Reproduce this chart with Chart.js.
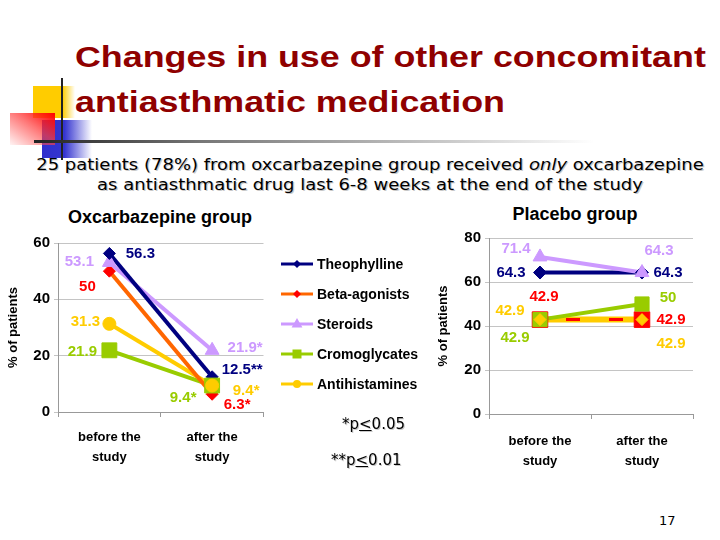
<!DOCTYPE html>
<html>
<head>
<meta charset="utf-8">
<script src="https://cdn.jsdelivr.net/npm/chart.js@4/dist/chart.umd.min.js"></script>
<style>
  body { margin: 0; width: 720px; height: 540px; background: #fff; position: relative; overflow: hidden; }
  .abs { position: absolute; }
  #title { left: 75px; top: 35px; font: bold 29px "Liberation Sans", Arial, sans-serif; line-height: 45px; color: #8f0000; transform: scaleX(1.235); transform-origin: left top; white-space: nowrap; }
  #subtitle { left: 20px; top: 155px; width: 700px; text-align: center; font: 15px "DejaVu Sans", Verdana, sans-serif; line-height: 20px; color: #000; text-shadow: 1px 1px 0 #c8c8c8; white-space: nowrap; transform: scaleX(1.2); transform-origin: 350px 0; }
  .chartTitle { font: bold 18px "Liberation Sans", Arial, sans-serif; color: #000; text-align: center; white-space: nowrap; }
  .note { font: 15px "DejaVu Sans", Verdana, sans-serif; color: #000; text-shadow: 1px 1px 0 #c8c8c8; white-space: nowrap; }
  .legendRow { position: absolute; left: 0; height: 20px; display: flex; align-items: center; font: bold 14px "Liberation Sans", Arial, sans-serif; color: #000; white-space: nowrap; }
  .legendRow canvas { margin-right: 3px; }
</style>
</head>
<body>
<!-- decorative corner blocks -->
<div class="abs" style="left:33px;top:86px;width:42px;height:32px;background:linear-gradient(to right,#ffcc00 0%,#ffcc00 70%,rgba(255,204,0,0) 100%);"></div>
<div class="abs" style="left:42px;top:120px;width:50px;height:38px;background:linear-gradient(to right,#2f2fcc 0%,#3535d0 45%,rgba(60,60,220,0) 100%);"></div>
<div class="abs" style="left:10px;top:113px;width:45px;height:32px;background:linear-gradient(to bottom left,#ff0000 0%,rgba(255,60,60,0.7) 45%,rgba(255,200,200,0.2) 100%);"></div>
<div class="abs" style="left:61px;top:78px;width:2px;height:82px;background:#222;"></div>
<div class="abs" style="left:34px;top:140px;width:560px;height:3px;background:linear-gradient(to right,#222 0%,#777 30%,#ccc 75%,rgba(255,255,255,0) 100%);"></div>

<div id="title" class="abs">Changes in use of other concomitant<br>antiasthmatic medication</div>
<div id="subtitle" class="abs">25 patients (78%) from oxcarbazepine group received <i>only</i> oxcarbazepine<br>as antiasthmatic drug last 6-8 weeks at the end of the study</div>

<div class="abs chartTitle" style="left:60px;top:207px;width:200px;">Oxcarbazepine group</div>
<div class="abs chartTitle" style="left:475px;top:204px;width:200px;">Placebo group</div>

<div class="abs" style="left:0;top:225px;width:275px;height:245px;"><canvas id="oxChart" width="275" height="245"></canvas></div>
<div class="abs" style="left:430px;top:220px;width:275px;height:250px;"><canvas id="plChart" width="275" height="250"></canvas></div>

<div id="legend" class="abs" style="left:280px;top:254px;width:150px;height:150px;"></div>

<div class="abs note" style="left:342px;top:415px;">*p<u>&lt;</u>0.05</div>
<div class="abs note" style="left:331px;top:451px;">**p<u>&lt;</u>0.01</div>
<div class="abs note" style="left:659px;top:513px;font-size:13px;text-shadow:none;">17</div>

<script>
// Data
const seriesNames = ['Theophylline', 'Beta-agonists', 'Steroids', 'Cromoglycates', 'Antihistamines'];
const timepoints = [['before the', 'study'], ['after the', 'study']];

const oxTheophylline = [56.3, 12.5];
const oxBetaAgonists = [50, 6.3];
const oxSteroids = [53.1, 21.9];
const oxCromoglycates = [21.9, 9.4];
const oxAntihistamines = [31.3, 9.4];
const oxSignificance = [['', '**'], ['', '*'], ['', '*'], ['', '*'], ['', '*']];

const plTheophylline = [64.3, 64.3];
const plBetaAgonists = [42.9, 42.9];
const plSteroids = [71.4, 64.3];
const plCromoglycates = [42.9, 50];
const plAntihistamines = [42.9, 42.9];

const oxYTicks = [0, 20, 40, 60];
const plYTicks = [0, 20, 40, 60, 80];

// Styles
const lineColors = ['#000080', '#ff6600', '#cc99ff', '#99cc00', '#ffcc00'];
const markerColors = ['#000080', '#ff0000', '#cc99ff', '#99cc00', '#ffcc00'];
const labelColors = ['#000080', '#ff0000', '#cc99ff', '#99cc00', '#ffcc00'];

const oxMarkers = [
  { style: 'rectRot', r: 6 }, { style: 'rectRot', r: 6 }, { style: 'triangle', r: 8 },
  { style: 'rect', r: 10.5 }, { style: 'circle', r: 6.5 }
];
const plMarkers = [
  { style: 'rectRot', r: 6.5 }, { style: 'rect', r: 11 }, { style: 'triangle', r: 8 },
  { style: 'rect', r: 10 }, { style: 'rectRot', r: 6 }
];
// lower number = drawn on top
const oxLineOrder = [10, 11, 14, 13, 12];
const oxMarkerOrder = [3, 5, 4, 2, 1];
const plLineOrder = [13, 10, 12, 11, 14];
const plMarkerOrder = [5, 3, 4, 2, 1];

// label offsets from each point [before, after] in px
const oxLabelOffsets = [
  [[31, 0], [30, -7]],
  [[-22, 16], [25, 11]],
  [[-30, -1], [33, -2]],
  [[-27, 2], [-29, 12]],
  [[-24, -2], [34, 5]]
];
const plLabelOffsets = [
  [[-29, 0], [26, 0]],
  [[4, -23], [29, 0]],
  [[-24, -8], [17, -22]],
  [[-25, 18], [26, -6]],
  [[-30, -9], [29, 24]]
];

const FONT = '"Liberation Sans", Arial, sans-serif';

const valueLabels = {
  id: 'valueLabels',
  afterDatasetsDraw(chart, args, opts) {
    const ctx = chart.ctx;
    ctx.save();
    ctx.font = 'bold 15px ' + FONT;
    ctx.textAlign = 'center';
    ctx.textBaseline = 'middle';
    chart.data.datasets.forEach((ds, di) => {
      if (!ds.isMarker) return;
      const meta = chart.getDatasetMeta(di);
      const s = ds.seriesIndex;
      meta.data.forEach((pt, i) => {
        const off = opts.offsets[s][i];
        const suffix = opts.suffix ? opts.suffix[s][i] : '';
        ctx.fillStyle = labelColors[s];
        ctx.fillText(String(ds.data[i]) + suffix, pt.x + off[0], pt.y + off[1]);
      });
    });
    ctx.restore();
  }
};

function buildDatasets(values, markers, lineOrder, markerOrder, dashed) {
  const sets = [];
  values.forEach((v, s) => {
    const isDashed = dashed && dashed[s];
    sets.push({
      label: seriesNames[s] + ' line',
      data: v,
      borderColor: isDashed ? '#ff0000' : lineColors[s],
      borderWidth: isDashed ? 3 : (dashed && s === 4 ? 6 : 4),
      borderDash: isDashed ? [14, 29] : [],
      borderDashOffset: isDashed ? 17 : 0,
      pointRadius: 0,
      fill: false,
      tension: 0,
      order: lineOrder[s],
      clip: false
    });
    sets.push({
      label: seriesNames[s],
      data: v,
      showLine: false,
      isMarker: true,
      seriesIndex: s,
      pointStyle: markers[s].style,
      pointRadius: markers[s].r,
      pointBackgroundColor: markerColors[s],
      pointBorderColor: markerColors[s],
      pointBorderWidth: 1,
      order: markerOrder[s],
      clip: false
    });
  });
  return sets;
}

function makeChart(id, values, markers, lineOrder, markerOrder, dashed, yTicks, offsets, suffix, geom) {
  const ctx = document.getElementById(id).getContext('2d');
  return new Chart(ctx, {
    type: 'line',
    data: {
      labels: timepoints,
      datasets: buildDatasets(values, markers, lineOrder, markerOrder, dashed)
    },
    options: {
      responsive: false,
      animation: false,
      events: [],
      layout: { padding: { top: geom.top, right: geom.right, bottom: 0, left: 0 } },
      plugins: {
        legend: { display: false },
        tooltip: { enabled: false },
        title: { display: false },
        valueLabels: { offsets: offsets, suffix: suffix }
      },
      scales: {
        x: {
          offset: true,
          grid: { display: true, drawOnChartArea: false, offset: true, tickLength: 5, color: '#999' },
          border: { display: true, color: '#999' },
          ticks: { color: '#000', font: { family: FONT, size: 13, weight: 'bold', lineHeight: '20px' }, padding: geom.xPad, maxRotation: 0 },
          afterFit: scale => { scale.height = geom.xHeight; }
        },
        y: {
          min: yTicks[0],
          max: yTicks[yTicks.length - 1],
          afterBuildTicks: scale => { scale.ticks = yTicks.map(v => ({ value: v })); },
          grid: { color: '#c4c4c4', tickLength: 4, lineWidth: 1 },
          border: { display: true, color: '#999' },
          ticks: { color: '#000', font: { family: FONT, size: 15, weight: 'bold' }, padding: 4 },
          title: { display: true, text: '% of patients', color: '#000', font: { family: FONT, size: 13, weight: 'bold' }, padding: { top: 6, bottom: 2 } },
          afterFit: scale => { scale.width = geom.yWidth; }
        }
      }
    },
    plugins: [valueLabels]
  });
}

function drawMarker(ctx, style, x, y, r, color) {
  ctx.fillStyle = color;
  ctx.beginPath();
  if (style === 'rectRot') {
    ctx.moveTo(x, y - r); ctx.lineTo(x + r, y); ctx.lineTo(x, y + r); ctx.lineTo(x - r, y);
  } else if (style === 'triangle') {
    ctx.moveTo(x, y - r); ctx.lineTo(x + r * 0.9, y + r * 0.6); ctx.lineTo(x - r * 0.9, y + r * 0.6);
  } else if (style === 'rect') {
    ctx.rect(x - r, y - r, 2 * r, 2 * r);
  } else {
    ctx.arc(x, y, r, 0, Math.PI * 2);
  }
  ctx.closePath();
  ctx.fill();
}

function buildLegend() {
  const legend = document.getElementById('legend');
  const legendIcons = [
    { style: 'rectRot', r: 4 }, { style: 'rectRot', r: 4 }, { style: 'triangle', r: 6 },
    { style: 'rect', r: 4.5 }, { style: 'circle', r: 4 }
  ];
  seriesNames.forEach((name, s) => {
    const row = document.createElement('div');
    row.className = 'legendRow';
    row.style.top = (s * 30) + 'px';
    const c = document.createElement('canvas');
    c.width = 34; c.height = 16;
    const g = c.getContext('2d');
    g.strokeStyle = lineColors[s];
    g.lineWidth = 3;
    g.beginPath(); g.moveTo(1, 8); g.lineTo(33, 8); g.stroke();
    drawMarker(g, legendIcons[s].style, 17, 8, legendIcons[s].r, markerColors[s]);
    row.appendChild(c);
    const t = document.createElement('span');
    t.textContent = name;
    row.appendChild(t);
    legend.appendChild(row);
  });
}

buildLegend();

makeChart('oxChart',
  [oxTheophylline, oxBetaAgonists, oxSteroids, oxCromoglycates, oxAntihistamines],
  oxMarkers, oxLineOrder, oxMarkerOrder, null, oxYTicks, oxLabelOffsets, oxSignificance,
  { top: 18, right: 10, xHeight: 58, yWidth: 58, xPad: 10 });

makeChart('plChart',
  [plTheophylline, plBetaAgonists, plSteroids, plCromoglycates, plAntihistamines],
  plMarkers, plLineOrder, plMarkerOrder, [false, true, false, false, false], plYTicks, plLabelOffsets, null,
  { top: 18, right: 12, xHeight: 56, yWidth: 59, xPad: 12 });
</script>
</body>
</html>
